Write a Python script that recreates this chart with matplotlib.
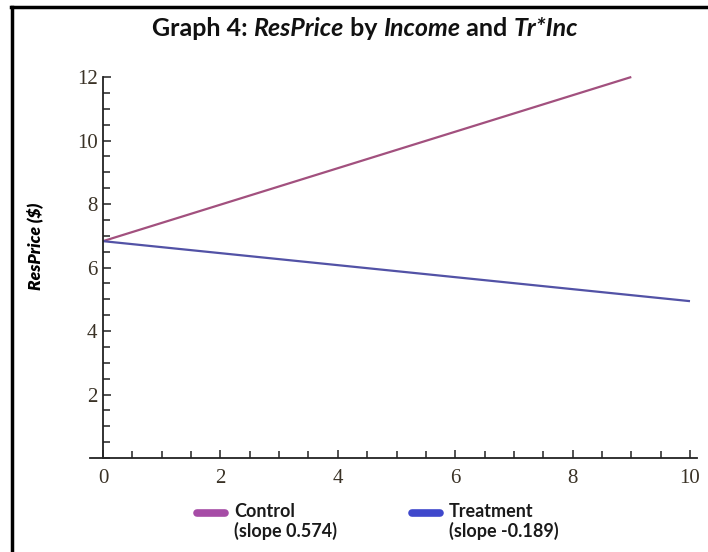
import matplotlib
matplotlib.use("Agg")
import matplotlib.pyplot as plt
from matplotlib.lines import Line2D
from matplotlib.ticker import MultipleLocator

# Data
control_income = [0, 9]
control_resprice = [6.83, 12.0]
treatment_income = [0, 10]
treatment_resprice = [6.83, 4.94]
series_labels = ["Control\n(slope 0.574)", "Treatment\n(slope -0.189)"]
x_ticks = [0, 2, 4, 6, 8, 10]
y_ticks = [2, 4, 6, 8, 10, 12]

W, H = 708, 552
fig = plt.figure(figsize=(W / 100, H / 100), dpi=100)
ax = fig.add_axes([103 / W, 1 - 458 / H, (690 - 103) / W, (458 - 77) / H])

ctrl_color = "#a2507e"
trt_color = "#5252a6"
ax.plot(control_income, control_resprice, color=ctrl_color, lw=1.6, solid_capstyle="butt", clip_on=False)
ax.plot(treatment_income, treatment_resprice, color=trt_color, lw=1.6, solid_capstyle="butt", clip_on=False)

ax.set_xlim(0, 10)
ax.set_ylim(0, 12)
for s in ["top", "right"]:
    ax.spines[s].set_visible(False)
ax.spines["bottom"].set_bounds(-0.22, 10.12)
for s in ["left", "bottom"]:
    ax.spines[s].set_linewidth(1.3)
    ax.spines[s].set_color("#222222")

ax.set_xticks(x_ticks)
ax.set_yticks(y_ticks)
ax.xaxis.set_minor_locator(MultipleLocator(0.5))
ax.yaxis.set_minor_locator(MultipleLocator(0.5))
ax.tick_params(axis="both", which="both", direction="in", color="#222222", width=1.1)
ax.tick_params(axis="both", which="major", length=6)
ax.tick_params(axis="both", which="minor", length=5)
ax.tick_params(axis="x", which="major", pad=8)
ax.tick_params(axis="y", which="major", pad=4)
for lab in ax.get_xticklabels() + ax.get_yticklabels():
    lab.set_fontfamily("Liberation Serif")
    lab.set_fontsize(15)
    lab.set_color("#3a3226")

# Y label
fig.text(35 / W, 1 - 246 / H, "ResPrice ($)", rotation=90, ha="center", va="center",
         fontfamily="Lato", fontweight="heavy", fontstyle="italic", fontsize=12.5)

# Title with mixed italics
pieces = [("Graph 4: ", "normal"), ("ResPrice", "italic"), (" by ", "normal"),
          ("Income", "italic"), (" and ", "normal"), ("Tr*Inc", "italic")]
fig.canvas.draw()
renderer = fig.canvas.get_renderer()
texts = []
for t, st in pieces:
    tx = fig.text(0, 1 - 36 / H, t, fontfamily="Lato", fontweight="bold", fontstyle=st,
                  fontsize=18, ha="left", va="baseline", color="#111111")
    texts.append(tx)
widths = [tx.get_window_extent(renderer).width for tx in texts]
total = sum(widths)
x0 = 365 - total / 2
for tx, w in zip(texts, widths):
    tx.set_x(x0 / W)
    x0 += w

# Legend
def legend_entry(xs, color, label):
    fig.add_artist(Line2D([xs / W, (xs + 28) / W], [1 - 513 / H, 1 - 513 / H],
                          transform=fig.transFigure, color=color, lw=5.5, solid_capstyle="round"))
    fig.text((xs + 37) / W, 1 - 503 / H, label, ha="left", va="top", fontfamily="Lato",
             fontweight="bold", fontsize=13, color="#1a1a1a", linespacing=1.15)

legend_entry(197, "#a64ca6", series_labels[0])
legend_entry(412, "#3f48cc", series_labels[1])

# Frame
fig.add_artist(Line2D([12 / W, 12 / W], [1 - 7 / H, 0], transform=fig.transFigure, color="black", lw=2.5))
fig.add_artist(Line2D([11 / W, 1], [1 - 7 / H, 1 - 7 / H], transform=fig.transFigure, color="black", lw=2.5))

fig.savefig("out.png", dpi=100)
